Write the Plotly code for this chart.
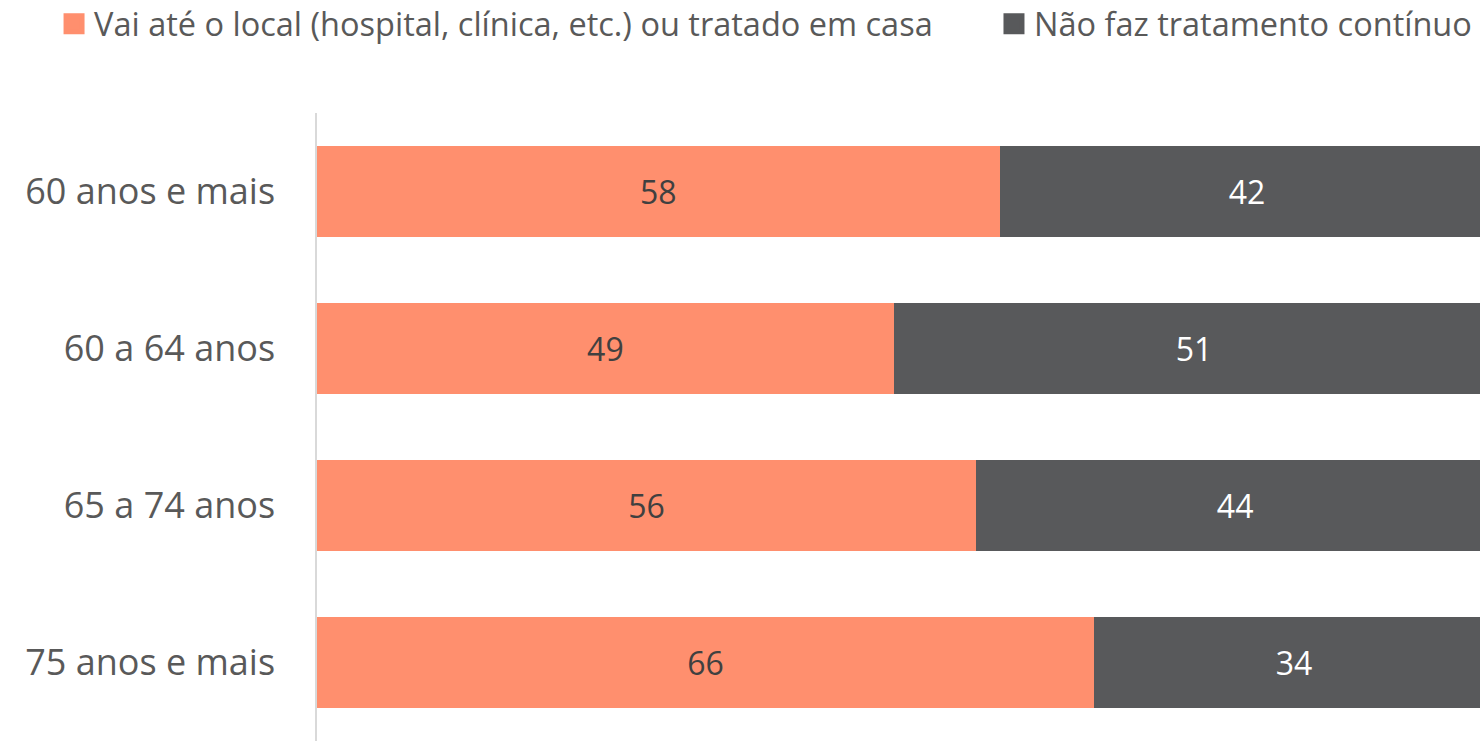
import plotly.graph_objects as go

categories = ["60 anos e mais", "60 a 64 anos", "65 a 74 anos", "75 anos e mais"]
vai_local = [58, 49, 56, 66]
nao_faz = [42, 51, 44, 34]
series_names = ["Vai até o local (hospital, clínica, etc.) ou tratado em casa",
                "Não faz tratamento contínuo"]

FONT = "Open Sans"
TEXT_GRAY = "#595959"
ORANGE = "#FF8F6E"
DARK = "#58595B"
colors = [ORANGE, DARK]
label_colors = ["#404040", "#FFFFFF"]
values = [vai_local, nao_faz]

fig = go.Figure()
for i in range(2):
    fig.add_trace(go.Bar(
        y=categories, x=values[i], orientation="h", name=series_names[i],
        marker=dict(color=colors[i], line=dict(width=0)),
        text=[str(v) for v in values[i]], textposition="inside",
        insidetextanchor="middle", textangle=0,
        textfont=dict(family=FONT, size=32, color=label_colors[i]),
        hoverinfo="skip", showlegend=False,
    ))
# legend entries (square swatches)
for i in range(2):
    fig.add_trace(go.Scatter(
        x=[None], y=[None], mode="markers", name=series_names[i],
        marker=dict(symbol="square", size=16, color=colors[i],
                    line=dict(width=5, color=colors[i])),
        legend="legend" if i == 0 else "legend2", showlegend=True,
        hoverinfo="skip",
    ))

legend_common = dict(
    orientation="h", yanchor="middle", y=1.1417, xanchor="left",
    font=dict(family=FONT, size=32.5, color=TEXT_GRAY),
    bgcolor="rgba(0,0,0,0)", borderwidth=0,
)

fig.update_layout(
    width=1480, height=741,
    margin=dict(l=317, r=0, t=113, b=0, autoexpand=False),
    paper_bgcolor="white", plot_bgcolor="white",
    barmode="stack", bargap=0.418,
    font=dict(family=FONT, color=TEXT_GRAY),
    showlegend=True,
    legend=dict(x=-0.2261, **legend_common),
    legend2=dict(x=0.5821, **legend_common),
    xaxis=dict(range=[0, 98.8], visible=False, showgrid=False, zeroline=False, fixedrange=True),
    yaxis=dict(
        autorange="reversed", showline=True, linecolor="#D9D9D9", linewidth=1.5,
        ticks="", showgrid=False, zeroline=False, fixedrange=True,
        tickfont=dict(family=FONT, size=36, color=TEXT_GRAY),
        ticklabelstandoff=33, automargin=False,
    ),
)

fig.write_html(
    "out.html",
    config={"displayModeBar": False},
    post_script=("document.body.style.margin='0';"
                 "document.documentElement.style.overflow='hidden';"
                 "document.body.style.overflow='hidden';"),
)
